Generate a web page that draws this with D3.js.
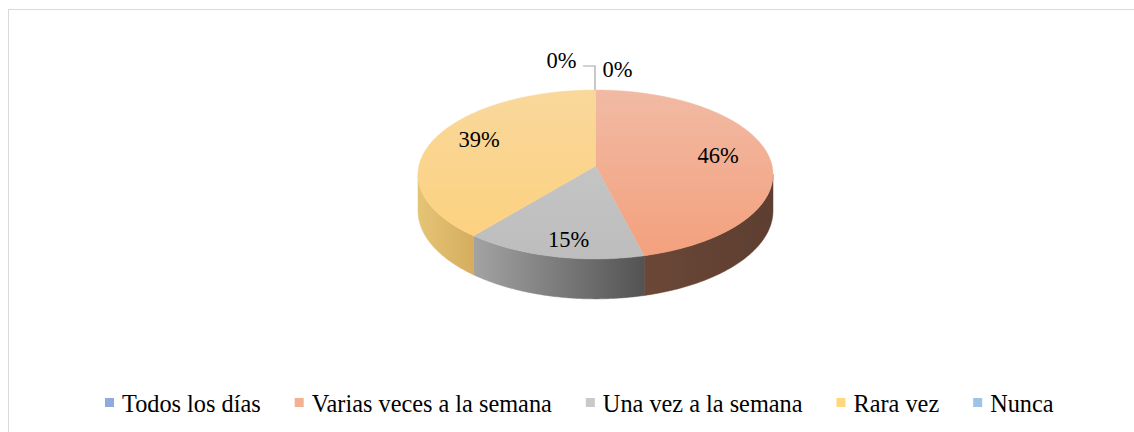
<!DOCTYPE html>
<html>
<head>
<meta charset="utf-8">
<script src="https://cdn.jsdelivr.net/npm/d3@7"></script>
<style>
  html, body { margin: 0; padding: 0; background: #fff; }
  svg { display: block; }
</style>
</head>
<body>
<svg id="chart" width="1134" height="432"></svg>
<script>
// data
var categories = ['Todos los días', 'Varias veces a la semana', 'Una vez a la semana', 'Rara vez', 'Nunca'];
var values = [0, 46, 15, 39, 0];
var labels = ['0%', '46%', '15%', '39%', '0%'];

// colours (legend / top light / top base / side light / side dark)
var legendColor = ['#8faadc', '#f4b092', '#c9c9c9', '#fed77f', '#9dc3e6'];
var topLight = ['#a9bde6', '#f1baa4', '#cacaca', '#f9d89c', '#b5d1ec'];
var topBase = ['#8faadc', '#f4a07c', '#bdbdbd', '#fdd07b', '#9dc3e6'];
var sideLight = ['#7089b8', '#6b4737', '#a3a3a3', '#e5c476', '#7d9dbb'];
var sideDark = ['#5a72a0', '#5d3e30', '#535353', '#d6ad5e', '#6a89a8'];

var FONT = '"Liberation Serif", "Times New Roman", serif';

var svg = d3.select('#chart');
var W = 1134, H = 432;

// chart area border (cropped on right and bottom)
svg.append('rect')
  .attr('x', 8.5).attr('y', 9.5)
  .attr('width', W + 20).attr('height', H + 20)
  .attr('fill', 'none')
  .attr('stroke', '#d9d9d9')
  .attr('stroke-width', 1);

// 3d pie with a little perspective: far edge (top) smaller than near edge
var ox = 595.5, oy = 166, R = 176.6, Rv = 83.6, persp = 0.1, depth = 36;

var pie = d3.pie().sort(null).value(function(d) { return d; }).startAngle(0).endAngle(2 * Math.PI);
var arcs = pie(values);

function rim(a, drop) {
  var s = 1 / (1 + persp * Math.cos(a));
  return [ox + R * Math.sin(a) * s, oy - Rv * Math.cos(a) * s + (drop ? depth * s : 0)];
}

function arcPoints(a0, a1, drop) {
  var n = Math.max(2, Math.ceil((a1 - a0) / 0.01));
  return d3.range(n + 1).map(function(j) { return rim(a0 + (a1 - a0) * j / n, drop); });
}

var line = d3.line();
var topY = rim(0)[1], botY = rim(Math.PI)[1];

var defs = svg.append('defs');
arcs.forEach(function(d, i) {
  var g1 = defs.append('linearGradient')
    .attr('id', 'top' + i)
    .attr('gradientUnits', 'userSpaceOnUse')
    .attr('x1', 0).attr('x2', 0)
    .attr('y1', topY).attr('y2', botY);
  g1.append('stop').attr('offset', '0%').attr('stop-color', topLight[i]);
  g1.append('stop').attr('offset', '100%').attr('stop-color', topBase[i]);

  var g2 = defs.append('linearGradient')
    .attr('id', 'side' + i)
    .attr('x1', 0).attr('x2', 1).attr('y1', 0).attr('y2', 0);
  g2.append('stop').attr('offset', '0%').attr('stop-color', sideLight[i]);
  g2.append('stop').attr('offset', '100%').attr('stop-color', sideDark[i]);
});

function topPath(a0, a1) {
  return line([[ox, oy]].concat(arcPoints(a0, a1, false))) + 'Z';
}

// outer wall is visible between the two silhouette angles
var sil = Math.acos(-persp);
function sidePath(a0, a1) {
  var b0 = Math.max(a0, sil), b1 = Math.min(a1, 2 * Math.PI - sil);
  if (b1 <= b0) return null;
  return line(arcPoints(b0, b1, false).concat(arcPoints(b0, b1, true).reverse())) + 'Z';
}

var gPie = svg.append('g');
var shown = arcs.filter(function(d) { return d.value > 0; });

gPie.selectAll('path.side').data(shown).enter()
  .append('path')
  .attr('class', 'side')
  .attr('d', function(d) { return sidePath(d.startAngle, d.endAngle); })
  .attr('fill', function(d) { return 'url(#side' + d.index + ')'; })
  .attr('stroke', function(d) { return 'url(#side' + d.index + ')'; })
  .attr('stroke-width', 0.5);

gPie.selectAll('path.top').data(shown).enter()
  .append('path')
  .attr('class', 'top')
  .attr('d', function(d) { return topPath(d.startAngle, d.endAngle); })
  .attr('fill', function(d) { return 'url(#top' + d.index + ')'; })
  .attr('stroke', function(d) { return 'url(#top' + d.index + ')'; })
  .attr('stroke-width', 0.5);

// data labels for the visible slices
var fontLbl = 22.5;
var ecy = (topY + botY) / 2, ery = (botY - topY) / 2;
gPie.selectAll('text.lbl').data(shown).enter()
  .append('text')
  .attr('class', 'lbl')
  .attr('x', function(d) { var m = (d.startAngle + d.endAngle) / 2; return ox + 0.7 * R * Math.sin(m); })
  .attr('y', function(d) { var m = (d.startAngle + d.endAngle) / 2; return ecy - 0.9 * ery * Math.cos(m) - 9; })
  .attr('dy', '0.33em')
  .attr('text-anchor', 'middle')
  .style('font-family', FONT)
  .attr('font-size', fontLbl)
  .attr('fill', '#000')
  .text(function(d) { return labels[d.index]; });

// zero slices sit at the top of the pie
var topPt = rim(0);
var first = arcs[0], last = arcs[arcs.length - 1];
if (first.value === 0) {
  gPie.append('text')
    .attr('x', topPt[0] + 7).attr('y', topPt[1] - 13)
    .style('font-family', FONT)
    .attr('font-size', fontLbl)
    .attr('fill', '#000')
    .text(labels[first.index]);
}
if (last.value === 0) {
  gPie.append('path')
    .attr('d', 'M' + (topPt[0] - 0.5) + ',' + topPt[1] + 'V' + (topPt[1] - 24) + 'H' + (topPt[0] - 12.5))
    .attr('fill', 'none')
    .attr('stroke', '#a6a6a6')
    .attr('stroke-width', 1.2);
  gPie.append('text')
    .attr('x', topPt[0] - 19).attr('y', topPt[1] - 22)
    .attr('text-anchor', 'end')
    .style('font-family', FONT)
    .attr('font-size', fontLbl)
    .attr('fill', '#000')
    .text(labels[last.index]);
}

// legend
var legend = svg.append('g');
var lx = 105, ly = 403, fontLeg = 24.3;
categories.forEach(function(c, i) {
  legend.append('rect')
    .attr('x', lx).attr('y', ly - 5)
    .attr('width', 9).attr('height', 9)
    .attr('fill', legendColor[i]);
  var t = legend.append('text')
    .attr('x', lx + 17).attr('y', ly)
    .attr('dy', '0.35em')
    .style('font-family', FONT)
    .attr('font-size', fontLeg)
    .attr('fill', '#000')
    .text(c);
  lx += 17 + t.node().getComputedTextLength() + 34;
});
</script>
</body>
</html>
